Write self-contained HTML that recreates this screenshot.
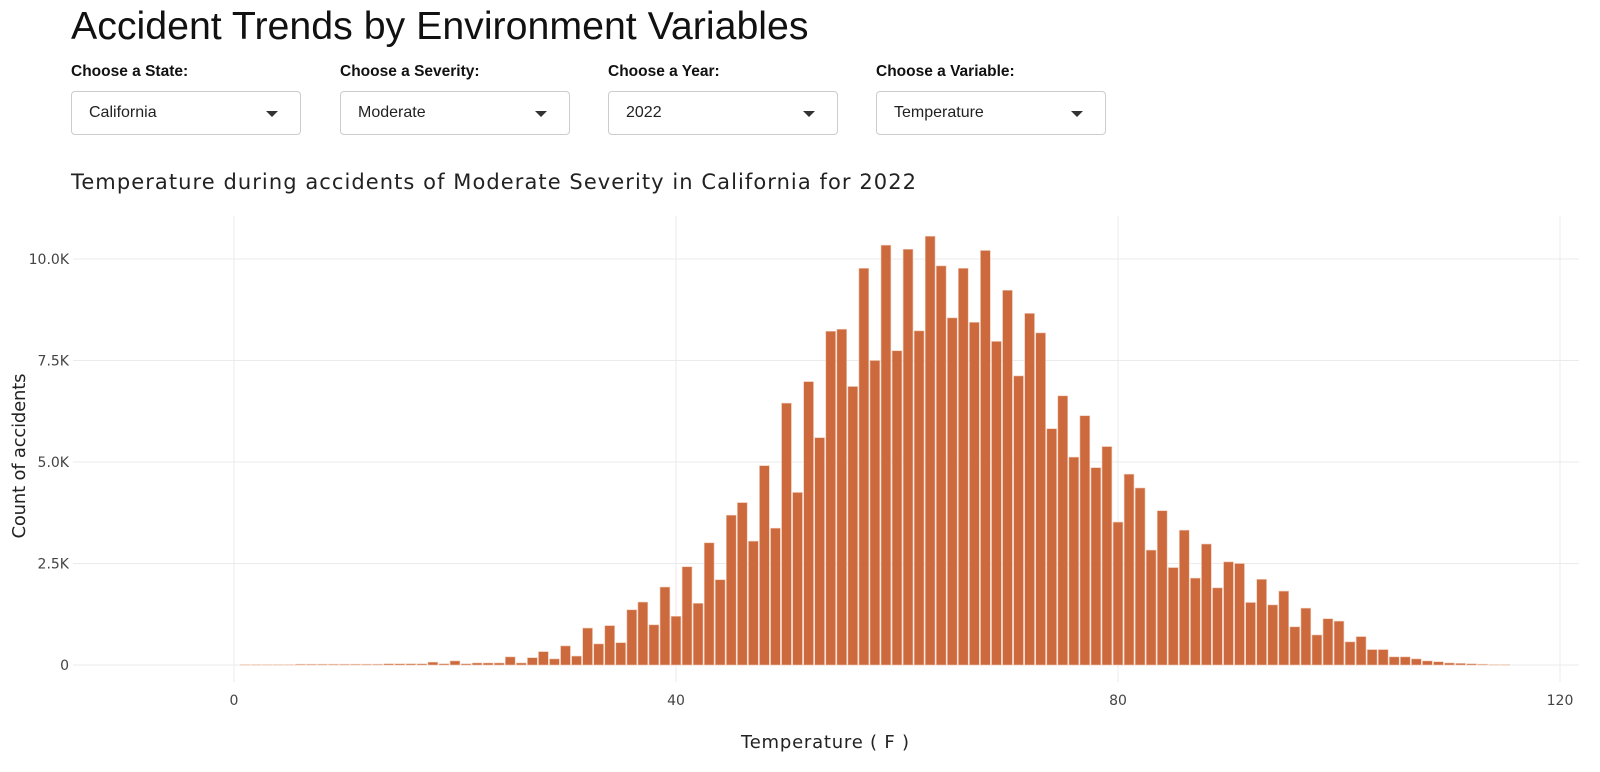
<!DOCTYPE html>
<html><head><meta charset="utf-8"><style>
body{margin:0;width:1600px;height:772px;background:#fff;overflow:hidden;font-family:"Liberation Sans",Arial,sans-serif;position:relative}
.title{position:absolute;left:71px;top:2px;font-size:39.3px;color:#111;line-height:48px}
.lbl{position:absolute;top:63px;font-size:15.5px;font-weight:bold;color:#111}
.dd{position:absolute;top:91px;width:230px;height:44px;border:1px solid #ccc;border-radius:4px;background:#fff;box-sizing:border-box}
.dd span{position:absolute;left:17px;top:12px;font-size:16px;color:#222}
.dd i{position:absolute;right:22px;top:19px;width:0;height:0;border-left:6px solid transparent;border-right:6px solid transparent;border-top:6px solid #333}
svg{position:absolute;left:0;top:0}
</style></head><body>
<div class="title">Accident Trends by Environment Variables</div>
<div class="lbl" style="left:71px">Choose a State:</div>
<div class="lbl" style="left:340px">Choose a Severity:</div>
<div class="lbl" style="left:608px">Choose a Year:</div>
<div class="lbl" style="left:876px">Choose a Variable:</div>
<div class="dd" style="left:71px"><span>California</span><i></i></div>
<div class="dd" style="left:340px"><span>Moderate</span><i></i></div>
<div class="dd" style="left:608px"><span>2022</span><i></i></div>
<div class="dd" style="left:876px"><span>Temperature</span><i></i></div>
<svg id="chart" width="1600" height="772"></svg>
<script>
const temps = [];
for (let t = 1; t <= 115; t++) temps.push(t);
const counts = [
0.01,0.01,0.01,0.01,0.01,0.02,0.02,0.02,0.02,0.02,0.02,0.02,0.02,0.03,0.03,0.03,0.03,0.07,0.03,0.1,
0.03,0.05,0.05,0.05,0.2,0.05,0.18,0.33,0.15,0.47,0.22,0.91,0.52,0.97,0.55,1.36,1.55,0.99,1.92,1.2,
2.42,1.52,3.01,2.1,3.69,4.0,3.05,4.91,3.37,6.45,4.25,6.98,5.6,8.22,8.27,6.86,9.77,7.5,10.34,7.74,
10.24,8.23,10.56,9.83,8.55,9.77,8.44,10.21,7.97,9.23,7.12,8.66,8.18,5.82,6.63,5.12,6.14,4.86,5.38,3.52,
4.7,4.36,2.83,3.8,2.4,3.32,2.14,2.98,1.9,2.54,2.5,1.54,2.11,1.48,1.82,0.94,1.4,0.74,1.14,1.08,
0.57,0.7,0.38,0.38,0.2,0.2,0.15,0.1,0.08,0.05,0.04,0.03,0.02,0.01,0.01];
const yTicks = [0,2.5,5,7.5,10];
const yTickLabels = ["0","2.5K","5.0K","7.5K","10.0K"];
const xTicks = [0,40,80,120];

const X = v => 234 + v*11.05;
const Y = v => 665 - v*40.6;
const svg = document.getElementById('chart');
const NS = 'http://www.w3.org/2000/svg';
function mk(tag, attrs, parent){const e=document.createElementNS(NS,tag);for(const k in attrs)e.setAttribute(k,attrs[k]);(parent||svg).appendChild(e);return e;}

const sub = mk('text',{x:71,y:189,'font-size':21,'font-family':'DejaVu Sans, sans-serif',fill:'#222',textLength:845});


sub.textContent='Temperature during accidents of Moderate Severity in California for 2022';

yTicks.forEach((v,i)=>{
  const g = mk('line',{x1:73,x2:1579,y1:Y(v),y2:Y(v),stroke:'#ebebeb','stroke-width':1});
  
  
  const t = mk('text',{x:69,y:Y(v)+5,'text-anchor':'end','font-size':14,'font-family':'DejaVu Sans, sans-serif',fill:'#444'});
  
  
  t.textContent = yTickLabels[i];
});
xTicks.forEach(v=>{
  const g = mk('line',{x1:X(v),x2:X(v),y1:216,y2:682,stroke:'#ebebeb','stroke-width':1});
  
  
  const t = mk('text',{x:X(v),y:705,'text-anchor':'middle','font-size':14,'font-family':'DejaVu Sans, sans-serif',fill:'#444'});
  
  
  t.textContent = String(v);
});
temps.forEach((t,i)=>{
  const v = counts[i];
  const w = 11.05;
  const r = mk('rect',{x:X(t)-w/2+0.6,y:Y(v),width:w-1.2,height:Math.max(665-Y(v),0.5),fill:'#cd6a3d',stroke:'#f0c9b5','stroke-width':0.6});
  
  
});
const xt = mk('text',{x:825,y:748,'text-anchor':'middle','font-size':18,'font-family':'DejaVu Sans, sans-serif',fill:'#222',textLength:168});


xt.textContent='Temperature ( F )';
const yt = mk('text',{x:0,y:0,'text-anchor':'middle','font-size':18,'font-family':'DejaVu Sans, sans-serif',fill:'#222',textLength:165,transform:'translate(25,456) rotate(-90)'});


yt.textContent='Count of accidents';
</script>
</body></html>
